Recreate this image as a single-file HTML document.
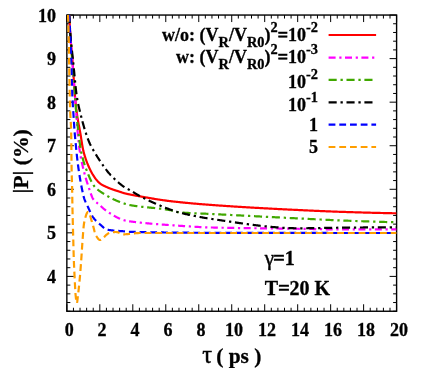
<!DOCTYPE html>
<html><head><meta charset="utf-8"><title>plot</title>
<style>
html,body{margin:0;padding:0;background:#fff;}
svg{display:block;will-change:transform;}
text{font-family:"Liberation Serif",serif;font-weight:bold;fill:#000;stroke:#000;stroke-width:0.3px;}
.sym{font-weight:normal;stroke-width:0.45px;}
</style></head><body>
<svg width="431" height="368" viewBox="0 0 431 368">
<rect x="0" y="0" width="431" height="368" fill="#fff"/>
<defs><clipPath id="c"><rect x="66.85" y="15.05" width="329.75" height="296.20"/></clipPath></defs>
<path d="M66.85 311.25V304.25M66.85 15.05V22.05M73.44 311.25V307.75M73.44 15.05V18.55M80.04 311.25V307.75M80.04 15.05V18.55M86.63 311.25V307.75M86.63 15.05V18.55M93.23 311.25V307.75M93.23 15.05V18.55M99.82 311.25V304.25M99.82 15.05V22.05M106.42 311.25V307.75M106.42 15.05V18.55M113.02 311.25V307.75M113.02 15.05V18.55M119.61 311.25V307.75M119.61 15.05V18.55M126.20 311.25V307.75M126.20 15.05V18.55M132.80 311.25V304.25M132.80 15.05V22.05M139.40 311.25V307.75M139.40 15.05V18.55M145.99 311.25V307.75M145.99 15.05V18.55M152.59 311.25V307.75M152.59 15.05V18.55M159.18 311.25V307.75M159.18 15.05V18.55M165.78 311.25V304.25M165.78 15.05V22.05M172.37 311.25V307.75M172.37 15.05V18.55M178.97 311.25V307.75M178.97 15.05V18.55M185.56 311.25V307.75M185.56 15.05V18.55M192.16 311.25V307.75M192.16 15.05V18.55M198.75 311.25V304.25M198.75 15.05V22.05M205.34 311.25V307.75M205.34 15.05V18.55M211.94 311.25V307.75M211.94 15.05V18.55M218.54 311.25V307.75M218.54 15.05V18.55M225.13 311.25V307.75M225.13 15.05V18.55M231.72 311.25V304.25M231.72 15.05V22.05M238.32 311.25V307.75M238.32 15.05V18.55M244.92 311.25V307.75M244.92 15.05V18.55M251.51 311.25V307.75M251.51 15.05V18.55M258.11 311.25V307.75M258.11 15.05V18.55M264.70 311.25V304.25M264.70 15.05V22.05M271.30 311.25V307.75M271.30 15.05V18.55M277.89 311.25V307.75M277.89 15.05V18.55M284.49 311.25V307.75M284.49 15.05V18.55M291.08 311.25V307.75M291.08 15.05V18.55M297.68 311.25V304.25M297.68 15.05V22.05M304.27 311.25V307.75M304.27 15.05V18.55M310.87 311.25V307.75M310.87 15.05V18.55M317.46 311.25V307.75M317.46 15.05V18.55M324.06 311.25V307.75M324.06 15.05V18.55M330.65 311.25V304.25M330.65 15.05V22.05M337.25 311.25V307.75M337.25 15.05V18.55M343.84 311.25V307.75M343.84 15.05V18.55M350.43 311.25V307.75M350.43 15.05V18.55M357.03 311.25V307.75M357.03 15.05V18.55M363.62 311.25V304.25M363.62 15.05V22.05M370.22 311.25V307.75M370.22 15.05V18.55M376.82 311.25V307.75M376.82 15.05V18.55M383.41 311.25V307.75M383.41 15.05V18.55M390.00 311.25V307.75M390.00 15.05V18.55M396.60 311.25V304.25M396.60 15.05V22.05M66.85 311.25H70.35M396.60 311.25H393.10M66.85 302.54H70.35M396.60 302.54H393.10M66.85 293.83H70.35M396.60 293.83H393.10M66.85 285.11H70.35M396.60 285.11H393.10M66.85 276.40H73.85M396.60 276.40H389.60M66.85 267.69H70.35M396.60 267.69H393.10M66.85 258.98H70.35M396.60 258.98H393.10M66.85 250.27H70.35M396.60 250.27H393.10M66.85 241.56H70.35M396.60 241.56H393.10M66.85 232.84H73.85M396.60 232.84H389.60M66.85 224.13H70.35M396.60 224.13H393.10M66.85 215.42H70.35M396.60 215.42H393.10M66.85 206.71H70.35M396.60 206.71H393.10M66.85 198.00H70.35M396.60 198.00H393.10M66.85 189.29H73.85M396.60 189.29H389.60M66.85 180.57H70.35M396.60 180.57H393.10M66.85 171.86H70.35M396.60 171.86H393.10M66.85 163.15H70.35M396.60 163.15H393.10M66.85 154.44H70.35M396.60 154.44H393.10M66.85 145.73H73.85M396.60 145.73H389.60M66.85 137.01H70.35M396.60 137.01H393.10M66.85 128.30H70.35M396.60 128.30H393.10M66.85 119.59H70.35M396.60 119.59H393.10M66.85 110.88H70.35M396.60 110.88H393.10M66.85 102.17H73.85M396.60 102.17H389.60M66.85 93.46H70.35M396.60 93.46H393.10M66.85 84.74H70.35M396.60 84.74H393.10M66.85 76.03H70.35M396.60 76.03H393.10M66.85 67.32H70.35M396.60 67.32H393.10M66.85 58.61H73.85M396.60 58.61H389.60M66.85 49.90H70.35M396.60 49.90H393.10M66.85 41.19H70.35M396.60 41.19H393.10M66.85 32.47H70.35M396.60 32.47H393.10M66.85 23.76H70.35M396.60 23.76H393.10M66.85 15.05H73.85M396.60 15.05H389.60" stroke="#000" stroke-width="1" fill="none"/>
<rect x="66.85" y="15.05" width="329.75" height="296.20" fill="none" stroke="#000" stroke-width="1.4"/>
<g clip-path="url(#c)" fill="none" stroke-width="2.2">
<path d="M69.20 14.90L69.40 18.80L69.60 22.60L69.80 26.27L70.00 29.76L70.20 33.04L70.40 36.06L70.61 38.84L70.81 41.43L71.01 43.86L71.21 46.17L71.41 48.41L71.61 50.59L71.81 52.77L72.01 54.98L72.21 57.26L72.41 59.64L72.61 62.16L72.81 64.86L73.01 67.72L73.21 70.71L73.42 73.78L73.62 76.89L73.82 80.02L74.02 83.11L74.22 86.12L74.42 89.03L74.62 91.78L74.82 94.35L75.02 96.68L75.22 98.82L75.42 100.87L75.62 102.84L75.82 104.73L76.02 106.54L76.23 108.27L76.43 109.93L76.63 111.52L76.83 113.04L77.03 114.49L77.23 115.88L77.43 117.21L77.63 118.47L77.83 119.68L78.03 120.85L78.23 121.98L78.43 123.08L78.63 124.15L78.83 125.21L79.04 126.25L79.24 127.29L79.44 128.33L79.64 129.38L79.84 130.45L80.04 131.54L80.24 132.66L80.44 133.81L80.64 135.02L80.84 136.26L81.04 137.52L81.24 138.81L81.44 140.10L81.64 141.38L81.85 142.66L82.05 143.91L82.25 145.12L82.45 146.30L82.65 147.42L82.85 148.49L83.05 149.47L83.25 150.38L83.45 151.20L83.65 151.98L83.85 152.74L84.05 153.48L84.25 154.20L84.45 154.90L84.66 155.58L84.86 156.25L85.06 156.90L85.26 157.54L85.46 158.16L85.66 158.77L85.86 159.36L86.06 159.94L86.26 160.51L86.46 161.06L86.66 161.60L86.86 162.13L87.06 162.66L87.26 163.17L87.47 163.67L87.67 164.16L87.87 164.65L88.07 165.12L88.27 165.59L88.47 166.05L88.67 166.51L88.87 166.96L89.07 167.41L89.27 167.85L89.47 168.29L89.67 168.73L89.87 169.16L90.07 169.58L90.28 170.00L90.48 170.40L90.68 170.80L90.88 171.18L91.08 171.56L91.28 171.93L91.48 172.30L91.68 172.66L91.88 173.01L92.08 173.35L92.28 173.69L92.48 174.03L92.68 174.36L92.89 174.68L93.09 175.00L93.29 175.32L93.49 175.64L93.69 175.95L93.89 176.26L94.09 176.57L94.29 176.87L94.49 177.18L94.69 177.47L94.89 177.77L95.09 178.06L95.29 178.34L95.49 178.62L95.70 178.89L95.90 179.16L96.10 179.42L96.30 179.67L96.50 179.92L96.70 180.16L96.90 180.39L97.10 180.61L97.30 180.83L97.50 181.05L97.70 181.26L97.90 181.47L98.10 181.68L98.30 181.88L98.51 182.08L98.71 182.27L98.91 182.46L99.11 182.64L99.31 182.82L99.51 183.00L99.71 183.17L99.91 183.34L100.11 183.50L100.31 183.65L100.51 183.80L100.71 183.94L100.91 184.08L101.11 184.21L101.32 184.34L101.52 184.47L101.72 184.59L101.92 184.71L102.12 184.83L102.32 184.95L102.52 185.06L102.72 185.17L102.92 185.28L103.12 185.38L103.32 185.49L103.52 185.59L103.72 185.69L103.92 185.79L104.13 185.89L104.33 185.99L104.53 186.08L104.73 186.18L104.93 186.27L105.13 186.36L105.33 186.46L105.53 186.55L105.73 186.64L105.93 186.73L106.13 186.82L106.33 186.92L106.53 187.01L106.73 187.10L106.94 187.19L107.14 187.27L107.34 187.36L107.54 187.45L107.74 187.53L107.94 187.62L108.14 187.70L108.34 187.79L108.54 187.87L108.74 187.95L108.94 188.03L109.14 188.11L109.34 188.19L109.54 188.27L109.75 188.35L109.95 188.43L110.15 188.51L110.35 188.59L110.55 188.66L110.75 188.74L110.95 188.81L111.15 188.89L111.35 188.96L111.55 189.04L111.75 189.11L111.95 189.18L112.15 189.26L112.35 189.33L112.56 189.40L112.76 189.47L112.96 189.54L113.16 189.61L113.36 189.68L113.56 189.75L113.76 189.81L113.96 189.88L114.16 189.95L114.36 190.01L114.56 190.08L114.76 190.14L114.96 190.21L115.17 190.27L115.37 190.34L115.57 190.40L115.77 190.47L115.97 190.53L116.17 190.59L116.37 190.66L116.57 190.72L116.77 190.79L116.97 190.85L117.17 190.91L117.37 190.98L117.57 191.04L117.77 191.10L117.98 191.17L118.18 191.23L118.38 191.30L118.58 191.36L118.78 191.43L118.98 191.49L119.18 191.56L119.38 191.62L119.58 191.69L119.78 191.76L119.98 191.82L120.18 191.89L120.38 191.96L120.58 192.03L120.79 192.09L120.99 192.16L121.19 192.23L121.39 192.30L121.59 192.36L121.79 192.43L121.99 192.50L122.19 192.56L122.39 192.63L122.59 192.69L122.79 192.76L122.99 192.82L123.19 192.88L123.39 192.94L123.60 193.01L123.80 193.07L124.00 193.12L124.20 193.18L124.40 193.24L124.60 193.29L124.80 193.35L125.00 193.40L125.20 193.45L125.40 193.50L125.60 193.55L125.80 193.60L126.00 193.65L126.20 193.69L126.41 193.74L126.61 193.79L126.81 193.83L127.01 193.88L127.21 193.92L127.41 193.96L127.61 194.01L127.81 194.05L128.01 194.09L128.21 194.13L128.41 194.18L128.61 194.22L128.81 194.26L129.01 194.30L129.22 194.34L129.42 194.38L129.62 194.42L129.82 194.46L130.02 194.50L130.22 194.54L130.42 194.59L130.62 194.63L130.82 194.67L131.02 194.71L131.22 194.75L131.42 194.79L131.62 194.83L131.82 194.87L132.03 194.91L132.23 194.95L132.43 194.98L132.63 195.02L132.83 195.06L133.03 195.10L133.23 195.14L133.43 195.18L133.63 195.22L133.83 195.26L134.03 195.29L134.23 195.33L134.43 195.37L134.63 195.41L134.84 195.45L135.04 195.48L135.24 195.52L135.44 195.56L135.64 195.60L135.84 195.63L136.04 195.67L136.24 195.71L136.44 195.74L136.64 195.78L136.84 195.82L137.04 195.85L137.24 195.89L137.44 195.93L137.65 195.96L137.85 196.00L138.05 196.03L138.25 196.07L138.45 196.11L138.65 196.14L138.85 196.18L139.05 196.21L139.25 196.25L139.45 196.28L139.65 196.32L139.85 196.35L140.05 196.39L140.26 196.42L140.46 196.46L140.66 196.49L140.86 196.53L141.06 196.56L141.26 196.60L141.46 196.63L141.66 196.67L141.86 196.70L142.06 196.74L142.26 196.77L142.46 196.81L142.66 196.84L142.86 196.88L143.07 196.91L143.27 196.94L143.47 196.98L143.67 197.01L143.87 197.05L144.07 197.08L144.27 197.12L144.47 197.15L144.67 197.19L144.87 197.22L145.07 197.26L145.27 197.29L145.47 197.33L145.67 197.36L145.88 197.40L146.08 197.43L146.28 197.47L146.48 197.50L146.68 197.54L146.88 197.57L147.08 197.61L147.28 197.64L147.48 197.68L147.68 197.71L147.88 197.74L148.08 197.78L148.28 197.81L148.48 197.85L148.69 197.88L148.89 197.92L149.09 197.95L149.29 197.99L150.11 198.13L150.94 198.27L151.77 198.41L152.60 198.55L153.42 198.68L154.25 198.82L155.08 198.96L155.90 199.09L156.73 199.22L157.56 199.35L158.39 199.48L159.21 199.61L160.04 199.74L160.87 199.86L161.69 199.99L162.52 200.11L163.35 200.23L164.18 200.34L165.00 200.46L165.83 200.57L166.66 200.68L167.48 200.79L168.31 200.89L169.14 201.00L169.97 201.10L170.79 201.19L171.62 201.29L172.45 201.39L173.27 201.48L174.10 201.57L174.93 201.67L175.76 201.76L176.58 201.85L177.41 201.94L178.24 202.03L179.06 202.11L179.89 202.20L180.72 202.29L181.55 202.37L182.37 202.46L183.20 202.54L184.03 202.62L184.85 202.70L185.68 202.79L186.51 202.87L187.34 202.94L188.16 203.02L188.99 203.10L189.82 203.18L190.64 203.25L191.47 203.33L192.30 203.40L193.13 203.48L193.95 203.55L194.78 203.62L195.61 203.70L196.43 203.77L197.26 203.84L198.09 203.91L198.92 203.98L199.74 204.05L200.57 204.11L201.40 204.18L202.22 204.25L203.05 204.32L203.88 204.38L204.71 204.45L205.53 204.51L206.36 204.58L207.19 204.64L208.01 204.70L208.84 204.76L209.67 204.83L210.50 204.89L211.32 204.95L212.15 205.01L212.98 205.07L213.80 205.13L214.63 205.19L215.46 205.25L216.29 205.31L217.11 205.37L217.94 205.43L218.77 205.49L219.59 205.54L220.42 205.60L221.25 205.66L222.08 205.72L222.90 205.77L223.73 205.83L224.56 205.89L225.38 205.94L226.21 206.00L227.04 206.05L227.87 206.11L228.69 206.16L229.52 206.22L230.35 206.27L231.17 206.32L232.00 206.38L232.83 206.43L233.65 206.48L234.48 206.54L235.31 206.59L236.14 206.64L236.96 206.69L237.79 206.75L238.62 206.80L239.44 206.85L240.27 206.90L241.10 206.95L241.93 207.00L242.75 207.05L243.58 207.10L244.41 207.15L245.23 207.20L246.06 207.25L246.89 207.30L247.72 207.35L248.54 207.40L249.37 207.45L250.20 207.49L251.02 207.54L251.85 207.59L252.68 207.64L253.51 207.69L254.33 207.73L255.16 207.78L255.99 207.83L256.81 207.87L257.64 207.92L258.47 207.97L259.30 208.01L260.12 208.06L260.95 208.10L261.78 208.15L262.60 208.20L263.43 208.24L264.26 208.29L265.09 208.33L265.91 208.38L266.74 208.42L267.57 208.46L268.39 208.51L269.22 208.55L270.05 208.60L270.88 208.64L271.70 208.68L272.53 208.73L273.36 208.77L274.18 208.81L275.01 208.86L275.84 208.90L276.67 208.94L277.49 208.98L278.32 209.03L279.15 209.07L279.97 209.11L280.80 209.15L281.63 209.20L282.46 209.24L283.28 209.28L284.11 209.32L284.94 209.36L285.76 209.40L286.59 209.44L287.42 209.49L288.25 209.53L289.07 209.57L289.90 209.61L290.73 209.65L291.55 209.69L292.38 209.73L293.21 209.77L294.04 209.81L294.86 209.85L295.69 209.89L296.52 209.93L297.34 209.97L298.17 210.01L299.00 210.05L299.83 210.09L300.65 210.13L301.48 210.17L302.31 210.21L303.13 210.25L303.96 210.29L304.79 210.33L305.62 210.37L306.44 210.41L307.27 210.45L308.10 210.49L308.92 210.52L309.75 210.56L310.58 210.60L311.41 210.64L312.23 210.68L313.06 210.72L313.89 210.75L314.71 210.79L315.54 210.83L316.37 210.86L317.20 210.90L318.02 210.94L318.85 210.97L319.68 211.01L320.50 211.05L321.33 211.08L322.16 211.12L322.99 211.15L323.81 211.19L324.64 211.22L325.47 211.26L326.29 211.29L327.12 211.32L327.95 211.36L328.78 211.39L329.60 211.42L330.43 211.46L331.26 211.49L332.08 211.52L332.91 211.55L333.74 211.58L334.57 211.61L335.39 211.64L336.22 211.67L337.05 211.70L337.87 211.73L338.70 211.76L339.53 211.78L340.36 211.81L341.18 211.84L342.01 211.87L342.84 211.89L343.66 211.92L344.49 211.95L345.32 211.97L346.14 212.00L346.97 212.03L347.80 212.05L348.63 212.08L349.45 212.11L350.28 212.13L351.11 212.16L351.93 212.18L352.76 212.21L353.59 212.24L354.42 212.26L355.24 212.29L356.07 212.31L356.90 212.34L357.72 212.36L358.55 212.39L359.38 212.41L360.21 212.43L361.03 212.46L361.86 212.48L362.69 212.51L363.51 212.53L364.34 212.55L365.17 212.58L366.00 212.60L366.82 212.62L367.65 212.65L368.48 212.67L369.30 212.69L370.13 212.71L370.96 212.73L371.79 212.76L372.61 212.78L373.44 212.80L374.27 212.82L375.09 212.84L375.92 212.86L376.75 212.88L377.58 212.90L378.40 212.92L379.23 212.94L380.06 212.96L380.88 212.98L381.71 213.00L382.54 213.02L383.37 213.04L384.19 213.06L385.02 213.07L385.85 213.09L386.67 213.11L387.50 213.13L388.33 213.14L389.16 213.16L389.98 213.18L390.81 213.19L391.64 213.21L392.46 213.23L393.29 213.24L394.12 213.26L394.95 213.27L395.77 213.29L396.60 213.30" stroke="#ff0000"/>
<path d="M69.20 14.90L69.40 18.74L69.60 22.48L69.80 26.11L70.00 29.60L70.20 32.93L70.40 36.07L70.61 39.01L70.81 41.81L71.01 44.49L71.21 47.07L71.41 49.58L71.61 52.05L71.81 54.52L72.01 57.01L72.21 59.54L72.41 62.15L72.61 64.82L72.81 67.51L73.01 70.21L73.21 72.93L73.42 75.65L73.62 78.39L73.82 81.12L74.02 83.84L74.22 86.56L74.42 89.27L74.62 91.96L74.82 94.63L75.02 97.27L75.22 99.88L75.42 102.44L75.62 104.99L75.82 107.53L76.02 110.09L76.23 112.69L76.43 115.35L76.63 118.16L76.83 121.10L77.03 124.07L77.23 126.98L77.43 129.73L77.63 132.21L77.83 134.41L78.03 136.52L78.23 138.53L78.43 140.47L78.63 142.32L78.83 144.09L79.04 145.76L79.24 147.35L79.44 148.85L79.64 150.25L79.84 151.57L80.04 152.83L80.24 154.05L80.44 155.23L80.64 156.36L80.84 157.46L81.04 158.53L81.24 159.56L81.44 160.56L81.64 161.53L81.85 162.48L82.05 163.40L82.25 164.30L82.45 165.19L82.65 166.05L82.85 166.91L83.05 167.74L83.25 168.57L83.45 169.39L83.65 170.21L83.85 171.01L84.05 171.81L84.25 172.58L84.45 173.35L84.66 174.10L84.86 174.85L85.06 175.58L85.26 176.30L85.46 177.00L85.66 177.70L85.86 178.39L86.06 179.07L86.26 179.74L86.46 180.40L86.66 181.06L86.86 181.70L87.06 182.34L87.26 182.97L87.47 183.59L87.67 184.21L87.87 184.82L88.07 185.42L88.27 186.02L88.47 186.62L88.67 187.21L88.87 187.80L89.07 188.40L89.27 189.01L89.47 189.62L89.67 190.23L89.87 190.84L90.07 191.44L90.28 192.05L90.48 192.64L90.68 193.23L90.88 193.80L91.08 194.37L91.28 194.92L91.48 195.45L91.68 195.97L91.88 196.46L92.08 196.94L92.28 197.39L92.48 197.82L92.68 198.22L92.89 198.59L93.09 198.93L93.29 199.24L93.49 199.52L93.69 199.78L93.89 200.03L94.09 200.26L94.29 200.49L94.49 200.71L94.69 200.92L94.89 201.12L95.09 201.31L95.29 201.50L95.49 201.67L95.70 201.85L95.90 202.02L96.10 202.18L96.30 202.34L96.50 202.50L96.70 202.65L96.90 202.80L97.10 202.95L97.30 203.10L97.50 203.25L97.70 203.41L97.90 203.56L98.10 203.71L98.30 203.87L98.51 204.03L98.71 204.20L98.91 204.37L99.11 204.54L99.31 204.72L99.51 204.90L99.71 205.08L99.91 205.26L100.11 205.44L100.31 205.62L100.51 205.81L100.71 205.99L100.91 206.18L101.11 206.36L101.32 206.55L101.52 206.73L101.72 206.92L101.92 207.10L102.12 207.29L102.32 207.47L102.52 207.65L102.72 207.84L102.92 208.02L103.12 208.20L103.32 208.38L103.52 208.56L103.72 208.73L103.92 208.91L104.13 209.08L104.33 209.25L104.53 209.42L104.73 209.59L104.93 209.76L105.13 209.92L105.33 210.08L105.53 210.24L105.73 210.39L105.93 210.54L106.13 210.69L106.33 210.84L106.53 210.98L106.73 211.12L106.94 211.26L107.14 211.39L107.34 211.52L107.54 211.66L107.74 211.79L107.94 211.92L108.14 212.05L108.34 212.18L108.54 212.31L108.74 212.45L108.94 212.58L109.14 212.71L109.34 212.84L109.54 212.97L109.75 213.10L109.95 213.22L110.15 213.35L110.35 213.48L110.55 213.61L110.75 213.74L110.95 213.86L111.15 213.99L111.35 214.11L111.55 214.24L111.75 214.36L111.95 214.49L112.15 214.61L112.35 214.73L112.56 214.86L112.76 214.98L112.96 215.10L113.16 215.22L113.36 215.34L113.56 215.46L113.76 215.58L113.96 215.69L114.16 215.81L114.36 215.93L114.56 216.04L114.76 216.15L114.96 216.27L115.17 216.38L115.37 216.49L115.57 216.60L115.77 216.71L115.97 216.82L116.17 216.93L116.37 217.04L116.57 217.14L116.77 217.25L116.97 217.35L117.17 217.46L117.37 217.56L117.57 217.66L117.77 217.76L117.98 217.86L118.18 217.96L118.38 218.05L118.58 218.15L118.78 218.24L118.98 218.34L119.18 218.43L119.38 218.52L119.58 218.61L119.78 218.70L119.98 218.78L120.18 218.87L120.38 218.95L120.58 219.04L120.79 219.12L120.99 219.20L121.19 219.28L121.39 219.36L121.59 219.43L121.79 219.51L121.99 219.58L122.19 219.65L122.39 219.72L122.59 219.79L122.79 219.86L122.99 219.93L123.19 219.99L123.39 220.05L123.60 220.12L123.80 220.18L124.00 220.23L124.20 220.29L124.40 220.35L124.60 220.40L124.80 220.45L125.00 220.50L125.20 220.55L125.40 220.60L125.60 220.64L125.80 220.69L126.00 220.73L126.20 220.77L126.41 220.81L126.61 220.85L126.81 220.89L127.01 220.93L127.21 220.97L127.41 221.00L127.61 221.04L127.81 221.07L128.01 221.11L128.21 221.14L128.41 221.17L128.61 221.20L128.81 221.23L129.01 221.26L129.22 221.29L129.42 221.32L129.62 221.35L129.82 221.38L130.02 221.40L130.22 221.43L130.42 221.46L130.62 221.48L130.82 221.51L131.02 221.53L131.22 221.56L131.42 221.59L131.62 221.61L131.82 221.64L132.03 221.66L132.23 221.69L132.43 221.71L132.63 221.74L132.83 221.77L133.03 221.79L133.23 221.82L133.43 221.84L133.63 221.86L133.83 221.89L134.03 221.91L134.23 221.94L134.43 221.96L134.63 221.99L134.84 222.01L135.04 222.03L135.24 222.06L135.44 222.08L135.64 222.11L135.84 222.13L136.04 222.15L136.24 222.18L136.44 222.20L136.64 222.22L136.84 222.25L137.04 222.27L137.24 222.29L137.44 222.31L137.65 222.34L137.85 222.36L138.05 222.38L138.25 222.40L138.45 222.43L138.65 222.45L138.85 222.47L139.05 222.49L139.25 222.51L139.45 222.54L139.65 222.56L139.85 222.58L140.05 222.60L140.26 222.62L140.46 222.64L140.66 222.66L140.86 222.69L141.06 222.71L141.26 222.73L141.46 222.75L141.66 222.77L141.86 222.79L142.06 222.81L142.26 222.83L142.46 222.85L142.66 222.87L142.86 222.89L143.07 222.91L143.27 222.93L143.47 222.95L143.67 222.97L143.87 222.99L144.07 223.01L144.27 223.03L144.47 223.05L144.67 223.07L144.87 223.09L145.07 223.11L145.27 223.13L145.47 223.15L145.67 223.17L145.88 223.19L146.08 223.21L146.28 223.22L146.48 223.24L146.68 223.26L146.88 223.28L147.08 223.30L147.28 223.32L147.48 223.34L147.68 223.35L147.88 223.37L148.08 223.39L148.28 223.41L148.48 223.43L148.69 223.45L148.89 223.46L149.09 223.48L149.29 223.50L150.11 223.57L150.94 223.64L151.77 223.72L152.60 223.79L153.42 223.85L154.25 223.92L155.08 223.99L155.90 224.06L156.73 224.12L157.56 224.19L158.39 224.25L159.21 224.31L160.04 224.38L160.87 224.44L161.69 224.50L162.52 224.56L163.35 224.62L164.18 224.68L165.00 224.74L165.83 224.80L166.66 224.86L167.48 224.92L168.31 224.98L169.14 225.04L169.97 225.10L170.79 225.16L171.62 225.21L172.45 225.27L173.27 225.33L174.10 225.39L174.93 225.45L175.76 225.51L176.58 225.57L177.41 225.63L178.24 225.68L179.06 225.74L179.89 225.80L180.72 225.86L181.55 225.92L182.37 225.97L183.20 226.03L184.03 226.09L184.85 226.14L185.68 226.20L186.51 226.25L187.34 226.31L188.16 226.36L188.99 226.41L189.82 226.47L190.64 226.52L191.47 226.57L192.30 226.62L193.13 226.67L193.95 226.72L194.78 226.76L195.61 226.81L196.43 226.86L197.26 226.90L198.09 226.95L198.92 226.99L199.74 227.03L200.57 227.07L201.40 227.11L202.22 227.15L203.05 227.19L203.88 227.22L204.71 227.26L205.53 227.29L206.36 227.32L207.19 227.35L208.01 227.38L208.84 227.41L209.67 227.43L210.50 227.46L211.32 227.48L212.15 227.50L212.98 227.52L213.80 227.54L214.63 227.56L215.46 227.58L216.29 227.60L217.11 227.62L217.94 227.64L218.77 227.66L219.59 227.68L220.42 227.70L221.25 227.71L222.08 227.73L222.90 227.75L223.73 227.77L224.56 227.78L225.38 227.80L226.21 227.81L227.04 227.83L227.87 227.85L228.69 227.86L229.52 227.88L230.35 227.89L231.17 227.91L232.00 227.92L232.83 227.93L233.65 227.95L234.48 227.96L235.31 227.98L236.14 227.99L236.96 228.00L237.79 228.02L238.62 228.03L239.44 228.04L240.27 228.05L241.10 228.07L241.93 228.08L242.75 228.09L243.58 228.10L244.41 228.11L245.23 228.12L246.06 228.14L246.89 228.15L247.72 228.16L248.54 228.17L249.37 228.18L250.20 228.19L251.02 228.20L251.85 228.21L252.68 228.22L253.51 228.23L254.33 228.24L255.16 228.25L255.99 228.26L256.81 228.27L257.64 228.28L258.47 228.29L259.30 228.30L260.12 228.31L260.95 228.32L261.78 228.33L262.60 228.34L263.43 228.35L264.26 228.36L265.09 228.37L265.91 228.38L266.74 228.39L267.57 228.40L268.39 228.41L269.22 228.42L270.05 228.43L270.88 228.44L271.70 228.44L272.53 228.45L273.36 228.46L274.18 228.47L275.01 228.48L275.84 228.49L276.67 228.50L277.49 228.51L278.32 228.52L279.15 228.53L279.97 228.54L280.80 228.55L281.63 228.56L282.46 228.57L283.28 228.58L284.11 228.59L284.94 228.60L285.76 228.61L286.59 228.62L287.42 228.63L288.25 228.64L289.07 228.65L289.90 228.66L290.73 228.67L291.55 228.68L292.38 228.69L293.21 228.70L294.04 228.72L294.86 228.73L295.69 228.74L296.52 228.75L297.34 228.76L298.17 228.77L299.00 228.79L299.83 228.80L300.65 228.81L301.48 228.82L302.31 228.84L303.13 228.85L303.96 228.86L304.79 228.88L305.62 228.89L306.44 228.91L307.27 228.92L308.10 228.94L308.92 228.96L309.75 228.97L310.58 228.99L311.41 229.01L312.23 229.02L313.06 229.04L313.89 229.05L314.71 229.07L315.54 229.09L316.37 229.10L317.20 229.12L318.02 229.14L318.85 229.15L319.68 229.17L320.50 229.18L321.33 229.20L322.16 229.21L322.99 229.23L323.81 229.24L324.64 229.26L325.47 229.27L326.29 229.28L327.12 229.30L327.95 229.31L328.78 229.32L329.60 229.33L330.43 229.34L331.26 229.35L332.08 229.36L332.91 229.37L333.74 229.37L334.57 229.38L335.39 229.38L336.22 229.39L337.05 229.39L337.87 229.40L338.70 229.40L339.53 229.40L340.36 229.40L341.18 229.40L342.01 229.40L342.84 229.40L343.66 229.40L344.49 229.40L345.32 229.40L346.14 229.40L346.97 229.40L347.80 229.40L348.63 229.40L349.45 229.40L350.28 229.40L351.11 229.40L351.93 229.40L352.76 229.40L353.59 229.40L354.42 229.40L355.24 229.40L356.07 229.40L356.90 229.40L357.72 229.40L358.55 229.40L359.38 229.40L360.21 229.40L361.03 229.40L361.86 229.40L362.69 229.40L363.51 229.40L364.34 229.40L365.17 229.40L366.00 229.40L366.82 229.40L367.65 229.40L368.48 229.40L369.30 229.40L370.13 229.40L370.96 229.40L371.79 229.40L372.61 229.40L373.44 229.40L374.27 229.40L375.09 229.40L375.92 229.40L376.75 229.40L377.58 229.40L378.40 229.40L379.23 229.40L380.06 229.40L380.88 229.40L381.71 229.40L382.54 229.40L383.37 229.40L384.19 229.40L385.02 229.40L385.85 229.40L386.67 229.40L387.50 229.40L388.33 229.40L389.16 229.40L389.98 229.40L390.81 229.40L391.64 229.40L392.46 229.40L393.29 229.40L394.12 229.40L394.95 229.40L395.77 229.40L396.60 229.40" stroke="#ff00ff" stroke-dasharray="7 3.7 2.2 3.5"/>
<path d="M69.20 14.90L69.40 18.74L69.60 22.48L69.80 26.11L70.00 29.60L70.20 32.93L70.40 36.07L70.61 39.02L70.81 41.82L71.01 44.50L71.21 47.09L71.41 49.61L71.61 52.09L71.81 54.56L72.01 57.04L72.21 59.56L72.41 62.15L72.61 64.79L72.81 67.45L73.01 70.11L73.21 72.79L73.42 75.47L73.62 78.15L73.82 80.83L74.02 83.51L74.22 86.17L74.42 88.81L74.62 91.44L74.82 94.05L75.02 96.63L75.22 99.21L75.42 101.83L75.62 104.45L75.82 107.03L76.02 109.54L76.23 111.94L76.43 114.21L76.63 116.32L76.83 118.34L77.03 120.29L77.23 122.17L77.43 124.00L77.63 125.77L77.83 127.49L78.03 129.18L78.23 130.83L78.43 132.46L78.63 134.08L78.83 135.71L79.04 137.34L79.24 138.96L79.44 140.56L79.64 142.12L79.84 143.65L80.04 145.11L80.24 146.51L80.44 147.83L80.64 149.06L80.84 150.19L81.04 151.21L81.24 152.17L81.44 153.10L81.64 154.00L81.85 154.88L82.05 155.73L82.25 156.56L82.45 157.36L82.65 158.14L82.85 158.90L83.05 159.64L83.25 160.36L83.45 161.06L83.65 161.74L83.85 162.40L84.05 163.05L84.25 163.68L84.45 164.30L84.66 164.91L84.86 165.50L85.06 166.08L85.26 166.65L85.46 167.21L85.66 167.76L85.86 168.31L86.06 168.84L86.26 169.37L86.46 169.90L86.66 170.42L86.86 170.94L87.06 171.46L87.26 171.97L87.47 172.49L87.67 172.99L87.87 173.50L88.07 174.00L88.27 174.49L88.47 174.98L88.67 175.47L88.87 175.95L89.07 176.43L89.27 176.90L89.47 177.36L89.67 177.82L89.87 178.28L90.07 178.72L90.28 179.16L90.48 179.60L90.68 180.02L90.88 180.44L91.08 180.86L91.28 181.26L91.48 181.65L91.68 182.04L91.88 182.42L92.08 182.79L92.28 183.15L92.48 183.50L92.68 183.85L92.89 184.18L93.09 184.50L93.29 184.81L93.49 185.11L93.69 185.40L93.89 185.68L94.09 185.95L94.29 186.21L94.49 186.46L94.69 186.69L94.89 186.92L95.09 187.14L95.29 187.35L95.49 187.56L95.70 187.77L95.90 187.97L96.10 188.17L96.30 188.36L96.50 188.55L96.70 188.73L96.90 188.92L97.10 189.09L97.30 189.27L97.50 189.44L97.70 189.61L97.90 189.77L98.10 189.93L98.30 190.09L98.51 190.25L98.71 190.40L98.91 190.55L99.11 190.70L99.31 190.84L99.51 190.99L99.71 191.13L99.91 191.27L100.11 191.41L100.31 191.54L100.51 191.68L100.71 191.81L100.91 191.94L101.11 192.08L101.32 192.21L101.52 192.33L101.72 192.46L101.92 192.59L102.12 192.72L102.32 192.84L102.52 192.97L102.72 193.10L102.92 193.22L103.12 193.35L103.32 193.48L103.52 193.60L103.72 193.73L103.92 193.86L104.13 193.99L104.33 194.12L104.53 194.25L104.73 194.38L104.93 194.50L105.13 194.63L105.33 194.76L105.53 194.88L105.73 195.01L105.93 195.13L106.13 195.26L106.33 195.38L106.53 195.50L106.73 195.62L106.94 195.74L107.14 195.86L107.34 195.98L107.54 196.10L107.74 196.22L107.94 196.34L108.14 196.45L108.34 196.57L108.54 196.68L108.74 196.80L108.94 196.91L109.14 197.02L109.34 197.13L109.54 197.24L109.75 197.35L109.95 197.46L110.15 197.57L110.35 197.68L110.55 197.78L110.75 197.89L110.95 198.00L111.15 198.10L111.35 198.20L111.55 198.31L111.75 198.41L111.95 198.51L112.15 198.61L112.35 198.71L112.56 198.81L112.76 198.91L112.96 199.00L113.16 199.10L113.36 199.19L113.56 199.29L113.76 199.38L113.96 199.47L114.16 199.57L114.36 199.66L114.56 199.75L114.76 199.84L114.96 199.93L115.17 200.02L115.37 200.11L115.57 200.20L115.77 200.29L115.97 200.38L116.17 200.47L116.37 200.56L116.57 200.64L116.77 200.73L116.97 200.82L117.17 200.90L117.37 200.99L117.57 201.07L117.77 201.16L117.98 201.24L118.18 201.32L118.38 201.41L118.58 201.49L118.78 201.57L118.98 201.65L119.18 201.73L119.38 201.81L119.58 201.89L119.78 201.97L119.98 202.05L120.18 202.13L120.38 202.21L120.58 202.28L120.79 202.36L120.99 202.43L121.19 202.51L121.39 202.58L121.59 202.66L121.79 202.73L121.99 202.80L122.19 202.87L122.39 202.94L122.59 203.01L122.79 203.08L122.99 203.15L123.19 203.22L123.39 203.29L123.60 203.35L123.80 203.42L124.00 203.48L124.20 203.55L124.40 203.61L124.60 203.68L124.80 203.74L125.00 203.80L125.20 203.86L125.40 203.92L125.60 203.98L125.80 204.04L126.00 204.10L126.20 204.16L126.41 204.22L126.61 204.28L126.81 204.33L127.01 204.39L127.21 204.45L127.41 204.50L127.61 204.55L127.81 204.61L128.01 204.66L128.21 204.71L128.41 204.76L128.61 204.81L128.81 204.85L129.01 204.90L129.22 204.94L129.42 204.98L129.62 205.03L129.82 205.07L130.02 205.10L130.22 205.14L130.42 205.18L130.62 205.21L130.82 205.25L131.02 205.29L131.22 205.32L131.42 205.36L131.62 205.39L131.82 205.42L132.03 205.46L132.23 205.49L132.43 205.53L132.63 205.56L132.83 205.59L133.03 205.62L133.23 205.66L133.43 205.69L133.63 205.72L133.83 205.75L134.03 205.78L134.23 205.81L134.43 205.84L134.63 205.87L134.84 205.90L135.04 205.93L135.24 205.96L135.44 205.99L135.64 206.02L135.84 206.05L136.04 206.08L136.24 206.10L136.44 206.13L136.64 206.16L136.84 206.19L137.04 206.21L137.24 206.24L137.44 206.27L137.65 206.29L137.85 206.32L138.05 206.34L138.25 206.37L138.45 206.40L138.65 206.42L138.85 206.45L139.05 206.47L139.25 206.50L139.45 206.52L139.65 206.54L139.85 206.57L140.05 206.59L140.26 206.62L140.46 206.64L140.66 206.66L140.86 206.69L141.06 206.71L141.26 206.73L141.46 206.75L141.66 206.78L141.86 206.80L142.06 206.82L142.26 206.84L142.46 206.86L142.66 206.89L142.86 206.91L143.07 206.93L143.27 206.95L143.47 206.97L143.67 206.99L143.87 207.01L144.07 207.04L144.27 207.06L144.47 207.08L144.67 207.10L144.87 207.12L145.07 207.14L145.27 207.16L145.47 207.18L145.67 207.20L145.88 207.22L146.08 207.24L146.28 207.26L146.48 207.28L146.68 207.30L146.88 207.32L147.08 207.34L147.28 207.36L147.48 207.38L147.68 207.40L147.88 207.42L148.08 207.44L148.28 207.46L148.48 207.47L148.69 207.49L148.89 207.51L149.09 207.53L149.29 207.55L150.11 207.63L150.94 207.71L151.77 207.79L152.60 207.87L153.42 207.95L154.25 208.03L155.08 208.11L155.90 208.20L156.73 208.28L157.56 208.37L158.39 208.46L159.21 208.55L160.04 208.65L160.87 208.75L161.69 208.85L162.52 208.95L163.35 209.06L164.18 209.17L165.00 209.29L165.83 209.41L166.66 209.54L167.48 209.67L168.31 209.81L169.14 209.95L169.97 210.09L170.79 210.27L171.62 210.48L172.45 210.72L173.27 210.97L174.10 211.23L174.93 211.49L175.76 211.72L176.58 211.93L177.41 212.09L178.24 212.20L179.06 212.29L179.89 212.36L180.72 212.44L181.55 212.51L182.37 212.58L183.20 212.64L184.03 212.70L184.85 212.76L185.68 212.82L186.51 212.87L187.34 212.92L188.16 212.97L188.99 213.02L189.82 213.06L190.64 213.11L191.47 213.15L192.30 213.19L193.13 213.22L193.95 213.26L194.78 213.30L195.61 213.33L196.43 213.36L197.26 213.40L198.09 213.43L198.92 213.46L199.74 213.49L200.57 213.52L201.40 213.55L202.22 213.58L203.05 213.61L203.88 213.64L204.71 213.68L205.53 213.71L206.36 213.74L207.19 213.78L208.01 213.81L208.84 213.85L209.67 213.88L210.50 213.92L211.32 213.97L212.15 214.01L212.98 214.05L213.80 214.09L214.63 214.14L215.46 214.18L216.29 214.22L217.11 214.27L217.94 214.31L218.77 214.35L219.59 214.40L220.42 214.44L221.25 214.48L222.08 214.53L222.90 214.57L223.73 214.61L224.56 214.66L225.38 214.70L226.21 214.74L227.04 214.79L227.87 214.83L228.69 214.87L229.52 214.92L230.35 214.96L231.17 215.00L232.00 215.04L232.83 215.09L233.65 215.13L234.48 215.17L235.31 215.22L236.14 215.26L236.96 215.30L237.79 215.35L238.62 215.39L239.44 215.43L240.27 215.47L241.10 215.52L241.93 215.56L242.75 215.60L243.58 215.65L244.41 215.69L245.23 215.73L246.06 215.77L246.89 215.82L247.72 215.86L248.54 215.90L249.37 215.95L250.20 215.99L251.02 216.03L251.85 216.07L252.68 216.12L253.51 216.16L254.33 216.20L255.16 216.24L255.99 216.29L256.81 216.33L257.64 216.37L258.47 216.41L259.30 216.46L260.12 216.50L260.95 216.54L261.78 216.58L262.60 216.62L263.43 216.67L264.26 216.71L265.09 216.75L265.91 216.79L266.74 216.84L267.57 216.88L268.39 216.92L269.22 216.96L270.05 217.00L270.88 217.05L271.70 217.09L272.53 217.13L273.36 217.17L274.18 217.21L275.01 217.26L275.84 217.30L276.67 217.34L277.49 217.38L278.32 217.42L279.15 217.46L279.97 217.51L280.80 217.55L281.63 217.59L282.46 217.63L283.28 217.67L284.11 217.71L284.94 217.75L285.76 217.80L286.59 217.84L287.42 217.88L288.25 217.92L289.07 217.96L289.90 218.00L290.73 218.04L291.55 218.08L292.38 218.12L293.21 218.17L294.04 218.21L294.86 218.25L295.69 218.29L296.52 218.33L297.34 218.37L298.17 218.41L299.00 218.45L299.83 218.49L300.65 218.53L301.48 218.57L302.31 218.61L303.13 218.65L303.96 218.70L304.79 218.74L305.62 218.78L306.44 218.82L307.27 218.86L308.10 218.90L308.92 218.94L309.75 218.99L310.58 219.03L311.41 219.07L312.23 219.11L313.06 219.15L313.89 219.19L314.71 219.23L315.54 219.28L316.37 219.32L317.20 219.36L318.02 219.40L318.85 219.44L319.68 219.48L320.50 219.52L321.33 219.56L322.16 219.60L322.99 219.64L323.81 219.68L324.64 219.72L325.47 219.76L326.29 219.80L327.12 219.84L327.95 219.88L328.78 219.92L329.60 219.95L330.43 219.99L331.26 220.03L332.08 220.07L332.91 220.10L333.74 220.14L334.57 220.17L335.39 220.21L336.22 220.25L337.05 220.28L337.87 220.31L338.70 220.35L339.53 220.38L340.36 220.41L341.18 220.45L342.01 220.48L342.84 220.51L343.66 220.54L344.49 220.58L345.32 220.61L346.14 220.64L346.97 220.67L347.80 220.71L348.63 220.74L349.45 220.77L350.28 220.80L351.11 220.83L351.93 220.86L352.76 220.89L353.59 220.92L354.42 220.96L355.24 220.99L356.07 221.02L356.90 221.05L357.72 221.08L358.55 221.11L359.38 221.14L360.21 221.17L361.03 221.20L361.86 221.23L362.69 221.26L363.51 221.29L364.34 221.31L365.17 221.34L366.00 221.37L366.82 221.40L367.65 221.43L368.48 221.46L369.30 221.49L370.13 221.51L370.96 221.54L371.79 221.57L372.61 221.60L373.44 221.62L374.27 221.65L375.09 221.68L375.92 221.70L376.75 221.73L377.58 221.76L378.40 221.78L379.23 221.81L380.06 221.83L380.88 221.86L381.71 221.88L382.54 221.91L383.37 221.93L384.19 221.96L385.02 221.98L385.85 222.01L386.67 222.03L387.50 222.05L388.33 222.08L389.16 222.10L389.98 222.12L390.81 222.15L391.64 222.17L392.46 222.19L393.29 222.21L394.12 222.24L394.95 222.26L395.77 222.28L396.60 222.30" stroke="#40a800" stroke-dasharray="8.1 3.8 2.3 3.7"/>
<path d="M69.20 14.90L69.40 18.58L69.60 22.18L69.80 25.64L70.00 28.92L70.20 31.98L70.40 34.78L70.61 37.28L70.81 39.60L71.01 41.77L71.21 43.81L71.41 45.76L71.61 47.62L71.81 49.42L72.01 51.18L72.21 52.92L72.41 54.67L72.61 56.43L72.81 58.25L73.01 60.13L73.21 62.08L73.42 64.09L73.62 66.14L73.82 68.22L74.02 70.33L74.22 72.45L74.42 74.57L74.62 76.69L74.82 78.78L75.02 80.85L75.22 82.89L75.42 84.87L75.62 86.80L75.82 88.65L76.02 90.43L76.23 92.12L76.43 93.70L76.63 95.18L76.83 96.54L77.03 97.78L77.23 98.97L77.43 100.11L77.63 101.20L77.83 102.25L78.03 103.27L78.23 104.24L78.43 105.19L78.63 106.10L78.83 106.99L79.04 107.85L79.24 108.70L79.44 109.53L79.64 110.35L79.84 111.16L80.04 111.96L80.24 112.76L80.44 113.56L80.64 114.36L80.84 115.17L81.04 115.98L81.24 116.78L81.44 117.57L81.64 118.36L81.85 119.14L82.05 119.91L82.25 120.67L82.45 121.43L82.65 122.18L82.85 122.93L83.05 123.66L83.25 124.39L83.45 125.10L83.65 125.81L83.85 126.52L84.05 127.21L84.25 127.89L84.45 128.57L84.66 129.23L84.86 129.89L85.06 130.54L85.26 131.17L85.46 131.80L85.66 132.42L85.86 133.03L86.06 133.63L86.26 134.23L86.46 134.81L86.66 135.40L86.86 135.97L87.06 136.54L87.26 137.11L87.47 137.66L87.67 138.21L87.87 138.75L88.07 139.28L88.27 139.81L88.47 140.32L88.67 140.83L88.87 141.33L89.07 141.82L89.27 142.30L89.47 142.77L89.67 143.24L89.87 143.69L90.07 144.13L90.28 144.56L90.48 144.98L90.68 145.39L90.88 145.80L91.08 146.19L91.28 146.58L91.48 146.96L91.68 147.33L91.88 147.69L92.08 148.05L92.28 148.41L92.48 148.76L92.68 149.11L92.89 149.45L93.09 149.79L93.29 150.13L93.49 150.47L93.69 150.81L93.89 151.15L94.09 151.49L94.29 151.82L94.49 152.16L94.69 152.49L94.89 152.83L95.09 153.16L95.29 153.49L95.49 153.82L95.70 154.15L95.90 154.48L96.10 154.80L96.30 155.13L96.50 155.46L96.70 155.78L96.90 156.10L97.10 156.42L97.30 156.75L97.50 157.06L97.70 157.38L97.90 157.70L98.10 158.02L98.30 158.33L98.51 158.65L98.71 158.96L98.91 159.27L99.11 159.58L99.31 159.89L99.51 160.20L99.71 160.51L99.91 160.81L100.11 161.12L100.31 161.42L100.51 161.72L100.71 162.02L100.91 162.32L101.11 162.62L101.32 162.92L101.52 163.21L101.72 163.51L101.92 163.80L102.12 164.09L102.32 164.38L102.52 164.67L102.72 164.96L102.92 165.25L103.12 165.53L103.32 165.82L103.52 166.10L103.72 166.38L103.92 166.66L104.13 166.94L104.33 167.22L104.53 167.49L104.73 167.77L104.93 168.04L105.13 168.31L105.33 168.58L105.53 168.85L105.73 169.12L105.93 169.39L106.13 169.65L106.33 169.91L106.53 170.17L106.73 170.43L106.94 170.69L107.14 170.95L107.34 171.21L107.54 171.46L107.74 171.71L107.94 171.96L108.14 172.21L108.34 172.45L108.54 172.69L108.74 172.93L108.94 173.17L109.14 173.40L109.34 173.63L109.54 173.86L109.75 174.08L109.95 174.30L110.15 174.52L110.35 174.74L110.55 174.95L110.75 175.15L110.95 175.36L111.15 175.57L111.35 175.77L111.55 175.98L111.75 176.18L111.95 176.38L112.15 176.59L112.35 176.79L112.56 176.99L112.76 177.19L112.96 177.39L113.16 177.59L113.36 177.79L113.56 177.99L113.76 178.18L113.96 178.38L114.16 178.58L114.36 178.77L114.56 178.96L114.76 179.16L114.96 179.35L115.17 179.54L115.37 179.73L115.57 179.92L115.77 180.11L115.97 180.29L116.17 180.48L116.37 180.66L116.57 180.85L116.77 181.03L116.97 181.21L117.17 181.40L117.37 181.58L117.57 181.75L117.77 181.93L117.98 182.11L118.18 182.29L118.38 182.46L118.58 182.63L118.78 182.81L118.98 182.98L119.18 183.15L119.38 183.32L119.58 183.48L119.78 183.65L119.98 183.82L120.18 183.98L120.38 184.14L120.58 184.30L120.79 184.46L120.99 184.62L121.19 184.78L121.39 184.94L121.59 185.09L121.79 185.24L121.99 185.40L122.19 185.55L122.39 185.70L122.59 185.84L122.79 185.99L122.99 186.13L123.19 186.28L123.39 186.42L123.60 186.56L123.80 186.70L124.00 186.84L124.20 186.97L124.40 187.11L124.60 187.24L124.80 187.37L125.00 187.50L125.20 187.63L125.40 187.75L125.60 187.87L125.80 187.99L126.00 188.10L126.20 188.22L126.41 188.33L126.61 188.44L126.81 188.54L127.01 188.65L127.21 188.75L127.41 188.85L127.61 188.96L127.81 189.06L128.01 189.16L128.21 189.26L128.41 189.36L128.61 189.46L128.81 189.57L129.01 189.67L129.22 189.78L129.42 189.88L129.62 189.99L129.82 190.10L130.02 190.21L130.22 190.32L130.42 190.44L130.62 190.55L130.82 190.67L131.02 190.78L131.22 190.90L131.42 191.02L131.62 191.14L131.82 191.26L132.03 191.38L132.23 191.50L132.43 191.62L132.63 191.74L132.83 191.86L133.03 191.98L133.23 192.11L133.43 192.23L133.63 192.35L133.83 192.47L134.03 192.60L134.23 192.72L134.43 192.84L134.63 192.97L134.84 193.09L135.04 193.21L135.24 193.34L135.44 193.46L135.64 193.58L135.84 193.71L136.04 193.83L136.24 193.95L136.44 194.07L136.64 194.20L136.84 194.32L137.04 194.44L137.24 194.56L137.44 194.68L137.65 194.80L137.85 194.91L138.05 195.03L138.25 195.15L138.45 195.26L138.65 195.38L138.85 195.49L139.05 195.61L139.25 195.72L139.45 195.83L139.65 195.94L139.85 196.05L140.05 196.16L140.26 196.27L140.46 196.37L140.66 196.48L140.86 196.58L141.06 196.68L141.26 196.79L141.46 196.89L141.66 196.99L141.86 197.10L142.06 197.20L142.26 197.30L142.46 197.40L142.66 197.51L142.86 197.61L143.07 197.71L143.27 197.81L143.47 197.91L143.67 198.01L143.87 198.11L144.07 198.21L144.27 198.32L144.47 198.42L144.67 198.52L144.87 198.62L145.07 198.72L145.27 198.81L145.47 198.91L145.67 199.01L145.88 199.11L146.08 199.21L146.28 199.31L146.48 199.41L146.68 199.50L146.88 199.60L147.08 199.70L147.28 199.80L147.48 199.90L147.68 199.99L147.88 200.09L148.08 200.19L148.28 200.28L148.48 200.38L148.69 200.47L148.89 200.57L149.09 200.67L149.29 200.76L150.11 201.15L150.94 201.54L151.77 201.92L152.60 202.30L153.42 202.68L154.25 203.06L155.08 203.43L155.90 203.79L156.73 204.16L157.56 204.52L158.39 204.87L159.21 205.23L160.04 205.57L160.87 205.92L161.69 206.26L162.52 206.60L163.35 206.94L164.18 207.27L165.00 207.60L165.83 207.92L166.66 208.24L167.48 208.56L168.31 208.87L169.14 209.18L169.97 209.49L170.79 209.79L171.62 210.09L172.45 210.39L173.27 210.68L174.10 210.96L174.93 211.23L175.76 211.50L176.58 211.75L177.41 211.99L178.24 212.21L179.06 212.43L179.89 212.64L180.72 212.85L181.55 213.06L182.37 213.26L183.20 213.46L184.03 213.66L184.85 213.86L185.68 214.06L186.51 214.25L187.34 214.44L188.16 214.62L188.99 214.81L189.82 214.99L190.64 215.17L191.47 215.35L192.30 215.52L193.13 215.69L193.95 215.86L194.78 216.03L195.61 216.20L196.43 216.36L197.26 216.52L198.09 216.68L198.92 216.83L199.74 216.99L200.57 217.14L201.40 217.29L202.22 217.43L203.05 217.58L203.88 217.72L204.71 217.86L205.53 218.00L206.36 218.13L207.19 218.27L208.01 218.40L208.84 218.53L209.67 218.65L210.50 218.78L211.32 218.90L212.15 219.02L212.98 219.14L213.80 219.26L214.63 219.38L215.46 219.51L216.29 219.63L217.11 219.75L217.94 219.87L218.77 219.99L219.59 220.12L220.42 220.24L221.25 220.36L222.08 220.49L222.90 220.61L223.73 220.73L224.56 220.85L225.38 220.98L226.21 221.10L227.04 221.22L227.87 221.35L228.69 221.47L229.52 221.59L230.35 221.71L231.17 221.84L232.00 221.96L232.83 222.08L233.65 222.20L234.48 222.32L235.31 222.44L236.14 222.56L236.96 222.68L237.79 222.80L238.62 222.92L239.44 223.04L240.27 223.16L241.10 223.27L241.93 223.39L242.75 223.50L243.58 223.62L244.41 223.73L245.23 223.85L246.06 223.96L246.89 224.07L247.72 224.18L248.54 224.29L249.37 224.40L250.20 224.51L251.02 224.62L251.85 224.73L252.68 224.83L253.51 224.94L254.33 225.04L255.16 225.14L255.99 225.25L256.81 225.35L257.64 225.45L258.47 225.54L259.30 225.64L260.12 225.74L260.95 225.83L261.78 225.92L262.60 226.02L263.43 226.11L264.26 226.20L265.09 226.28L265.91 226.37L266.74 226.45L267.57 226.54L268.39 226.62L269.22 226.70L270.05 226.78L270.88 226.86L271.70 226.93L272.53 227.00L273.36 227.08L274.18 227.15L275.01 227.21L275.84 227.28L276.67 227.35L277.49 227.41L278.32 227.47L279.15 227.53L279.97 227.59L280.80 227.64L281.63 227.69L282.46 227.75L283.28 227.79L284.11 227.84L284.94 227.89L285.76 227.93L286.59 227.97L287.42 228.01L288.25 228.04L289.07 228.08L289.90 228.11L290.73 228.14L291.55 228.17L292.38 228.19L293.21 228.21L294.04 228.23L294.86 228.25L295.69 228.26L296.52 228.28L297.34 228.29L298.17 228.29L299.00 228.30L299.83 228.30L300.65 228.30L301.48 228.30L302.31 228.29L303.13 228.28L303.96 228.28L304.79 228.27L305.62 228.26L306.44 228.25L307.27 228.24L308.10 228.22L308.92 228.21L309.75 228.20L310.58 228.19L311.41 228.18L312.23 228.17L313.06 228.16L313.89 228.15L314.71 228.13L315.54 228.12L316.37 228.11L317.20 228.09L318.02 228.08L318.85 228.06L319.68 228.05L320.50 228.03L321.33 228.01L322.16 228.00L322.99 227.98L323.81 227.97L324.64 227.95L325.47 227.93L326.29 227.92L327.12 227.90L327.95 227.89L328.78 227.87L329.60 227.86L330.43 227.84L331.26 227.83L332.08 227.81L332.91 227.80L333.74 227.78L334.57 227.77L335.39 227.76L336.22 227.75L337.05 227.74L337.87 227.72L338.70 227.71L339.53 227.71L340.36 227.70L341.18 227.69L342.01 227.68L342.84 227.67L343.66 227.66L344.49 227.65L345.32 227.65L346.14 227.64L346.97 227.63L347.80 227.62L348.63 227.61L349.45 227.60L350.28 227.60L351.11 227.59L351.93 227.58L352.76 227.57L353.59 227.56L354.42 227.55L355.24 227.55L356.07 227.54L356.90 227.53L357.72 227.52L358.55 227.52L359.38 227.51L360.21 227.50L361.03 227.49L361.86 227.49L362.69 227.48L363.51 227.47L364.34 227.46L365.17 227.46L366.00 227.45L366.82 227.44L367.65 227.44L368.48 227.43L369.30 227.42L370.13 227.42L370.96 227.41L371.79 227.41L372.61 227.40L373.44 227.39L374.27 227.39L375.09 227.38L375.92 227.38L376.75 227.37L377.58 227.37L378.40 227.36L379.23 227.36L380.06 227.35L380.88 227.35L381.71 227.34L382.54 227.34L383.37 227.34L384.19 227.33L385.02 227.33L385.85 227.33L386.67 227.32L387.50 227.32L388.33 227.32L389.16 227.31L389.98 227.31L390.81 227.31L391.64 227.31L392.46 227.31L393.29 227.30L394.12 227.30L394.95 227.30L395.77 227.30L396.60 227.30" stroke="#000000" stroke-dasharray="8.1 3.8 2.3 3.7"/>
<path d="M69.00 14.90L69.20 17.36L69.40 20.17L69.60 23.29L69.80 26.70L70.01 30.34L70.21 34.17L70.41 38.24L70.61 42.77L70.81 47.73L71.01 53.02L71.21 58.56L71.41 64.46L71.62 71.33L71.82 78.68L72.02 85.90L72.22 92.36L72.42 97.45L72.62 101.43L72.82 104.87L73.02 107.96L73.23 110.90L73.43 113.87L73.63 117.02L73.83 120.24L74.03 123.43L74.23 126.53L74.43 129.47L74.63 132.18L74.84 134.59L75.04 136.77L75.24 138.79L75.44 140.75L75.64 142.74L75.84 144.85L76.04 147.12L76.24 149.39L76.45 151.44L76.65 153.35L76.85 155.21L77.05 157.02L77.25 158.77L77.45 160.48L77.65 162.13L77.85 163.74L78.05 165.30L78.26 166.82L78.46 168.29L78.66 169.71L78.86 171.10L79.06 172.46L79.26 173.78L79.46 175.08L79.66 176.35L79.87 177.59L80.07 178.79L80.27 179.98L80.47 181.13L80.67 182.25L80.87 183.35L81.07 184.42L81.27 185.46L81.48 186.48L81.68 187.48L81.88 188.48L82.08 189.46L82.28 190.44L82.48 191.40L82.68 192.35L82.88 193.27L83.09 194.17L83.29 195.03L83.49 195.86L83.69 196.66L83.89 197.41L84.09 198.12L84.29 198.78L84.49 199.38L84.70 199.94L84.90 200.46L85.10 200.95L85.30 201.42L85.50 201.86L85.70 202.28L85.90 202.69L86.10 203.09L86.31 203.48L86.51 203.88L86.71 204.28L86.91 204.68L87.11 205.11L87.31 205.54L87.51 205.97L87.71 206.41L87.91 206.85L88.12 207.30L88.32 207.75L88.52 208.20L88.72 208.65L88.92 209.10L89.12 209.56L89.32 210.01L89.52 210.45L89.73 210.90L89.93 211.34L90.13 211.78L90.33 212.22L90.53 212.65L90.73 213.07L90.93 213.48L91.13 213.89L91.34 214.29L91.54 214.68L91.74 215.06L91.94 215.43L92.14 215.79L92.34 216.14L92.54 216.47L92.74 216.79L92.95 217.10L93.15 217.39L93.35 217.66L93.55 217.93L93.75 218.19L93.95 218.45L94.15 218.70L94.35 218.94L94.56 219.18L94.76 219.42L94.96 219.65L95.16 219.87L95.36 220.10L95.56 220.31L95.76 220.53L95.96 220.74L96.16 220.94L96.37 221.14L96.57 221.34L96.77 221.54L96.97 221.73L97.17 221.92L97.37 222.11L97.57 222.29L97.77 222.47L97.98 222.66L98.18 222.83L98.38 223.01L98.58 223.19L98.78 223.36L98.98 223.53L99.18 223.70L99.38 223.88L99.59 224.05L99.79 224.22L99.99 224.38L100.19 224.55L100.39 224.72L100.59 224.89L100.79 225.06L100.99 225.24L101.20 225.42L101.40 225.60L101.60 225.78L101.80 225.96L102.00 226.15L102.20 226.34L102.40 226.52L102.60 226.71L102.81 226.89L103.01 227.07L103.21 227.25L103.41 227.43L103.61 227.60L103.81 227.77L104.01 227.94L104.21 228.10L104.42 228.26L104.62 228.41L104.82 228.56L105.02 228.70L105.22 228.83L105.42 228.95L105.62 229.07L105.82 229.17L106.02 229.27L106.23 229.36L106.43 229.44L106.63 229.51L106.83 229.56L107.03 229.61L107.23 229.65L107.43 229.68L107.63 229.72L107.84 229.76L108.04 229.80L108.24 229.83L108.44 229.87L108.64 229.90L108.84 229.94L109.04 229.97L109.24 230.00L109.45 230.03L109.65 230.06L109.85 230.09L110.05 230.12L110.25 230.15L110.45 230.18L110.65 230.21L110.85 230.23L111.06 230.26L111.26 230.28L111.46 230.31L111.66 230.33L111.86 230.36L112.06 230.38L112.26 230.40L112.46 230.43L112.67 230.45L112.87 230.47L113.07 230.49L113.27 230.51L113.47 230.53L113.67 230.55L113.87 230.57L114.07 230.59L114.27 230.61L114.48 230.63L114.68 230.64L114.88 230.66L115.08 230.68L115.28 230.70L115.48 230.71L115.68 230.73L115.88 230.75L116.09 230.76L116.29 230.78L116.49 230.79L116.69 230.81L116.89 230.82L117.09 230.84L117.29 230.85L117.49 230.87L117.70 230.88L117.90 230.89L118.10 230.91L118.30 230.92L118.50 230.93L118.70 230.95L118.90 230.96L119.10 230.97L119.31 230.99L119.51 231.00L119.71 231.01L119.91 231.03L120.11 231.04L120.31 231.05L120.51 231.07L120.71 231.08L120.92 231.09L121.12 231.11L121.32 231.12L121.52 231.14L121.72 231.15L121.92 231.16L122.12 231.18L122.32 231.19L122.53 231.21L122.73 231.22L122.93 231.23L123.13 231.25L123.33 231.26L123.53 231.28L123.73 231.30L123.93 231.31L124.13 231.33L124.34 231.34L124.54 231.36L124.74 231.38L124.94 231.39L125.14 231.41L125.34 231.43L125.54 231.45L125.74 231.47L125.95 231.49L126.15 231.51L126.35 231.53L126.55 231.55L126.75 231.57L126.95 231.59L127.15 231.60L127.35 231.62L127.56 231.64L127.76 231.66L127.96 231.68L128.16 231.69L128.36 231.71L128.56 231.73L128.76 231.74L128.96 231.75L129.17 231.76L129.37 231.78L129.57 231.78L129.77 231.79L129.97 231.80L130.17 231.80L130.37 231.81L130.57 231.82L130.78 231.82L130.98 231.83L131.18 231.83L131.38 231.84L131.58 231.84L131.78 231.85L131.98 231.85L132.18 231.86L132.38 231.86L132.59 231.87L132.79 231.87L132.99 231.88L133.19 231.89L133.39 231.89L133.59 231.90L133.79 231.90L133.99 231.91L134.20 231.91L134.40 231.92L134.60 231.92L134.80 231.93L135.00 231.93L135.20 231.94L135.40 231.94L135.60 231.95L135.81 231.95L136.01 231.96L136.21 231.96L136.41 231.97L136.61 231.97L136.81 231.98L137.01 231.98L137.21 231.99L137.42 231.99L137.62 232.00L137.82 232.00L138.02 232.01L138.22 232.01L138.42 232.01L138.62 232.02L138.82 232.02L139.03 232.03L139.23 232.03L139.43 232.04L139.63 232.04L139.83 232.05L140.03 232.05L140.23 232.06L140.43 232.06L140.63 232.07L140.84 232.07L141.04 232.07L141.24 232.08L141.44 232.08L141.64 232.09L141.84 232.09L142.04 232.10L142.24 232.10L142.45 232.11L142.65 232.11L142.85 232.11L143.05 232.12L143.25 232.12L143.45 232.13L143.65 232.13L143.85 232.14L144.06 232.14L144.26 232.14L144.46 232.15L144.66 232.15L144.86 232.16L145.06 232.16L145.26 232.17L145.46 232.17L145.67 232.17L145.87 232.18L146.07 232.18L146.27 232.19L146.47 232.19L146.67 232.19L146.87 232.20L147.07 232.20L147.28 232.21L147.48 232.21L147.68 232.21L147.88 232.22L148.08 232.22L148.28 232.23L148.48 232.23L148.68 232.23L148.89 232.24L149.09 232.24L149.29 232.24L150.11 232.26L150.94 232.27L151.77 232.29L152.60 232.30L153.42 232.32L154.25 232.33L155.08 232.35L155.90 232.36L156.73 232.37L157.56 232.39L158.39 232.40L159.21 232.41L160.04 232.42L160.87 232.44L161.69 232.45L162.52 232.46L163.35 232.47L164.18 232.48L165.00 232.49L165.83 232.50L166.66 232.51L167.48 232.52L168.31 232.53L169.14 232.54L169.97 232.55L170.79 232.56L171.62 232.57L172.45 232.58L173.27 232.59L174.10 232.60L174.93 232.61L175.76 232.61L176.58 232.62L177.41 232.63L178.24 232.64L179.06 232.64L179.89 232.65L180.72 232.66L181.55 232.66L182.37 232.67L183.20 232.68L184.03 232.68L184.85 232.69L185.68 232.69L186.51 232.70L187.34 232.71L188.16 232.71L188.99 232.72L189.82 232.72L190.64 232.73L191.47 232.73L192.30 232.73L193.13 232.74L193.95 232.74L194.78 232.75L195.61 232.75L196.43 232.76L197.26 232.76L198.09 232.76L198.92 232.77L199.74 232.77L200.57 232.77L201.40 232.78L202.22 232.78L203.05 232.78L203.88 232.78L204.71 232.79L205.53 232.79L206.36 232.79L207.19 232.79L208.01 232.80L208.84 232.80L209.67 232.80L210.50 232.80L211.32 232.80L212.15 232.80L212.98 232.81L213.80 232.81L214.63 232.81L215.46 232.81L216.29 232.81L217.11 232.82L217.94 232.82L218.77 232.82L219.59 232.82L220.42 232.82L221.25 232.82L222.08 232.83L222.90 232.83L223.73 232.83L224.56 232.83L225.38 232.83L226.21 232.83L227.04 232.84L227.87 232.84L228.69 232.84L229.52 232.84L230.35 232.84L231.17 232.84L232.00 232.85L232.83 232.85L233.65 232.85L234.48 232.85L235.31 232.85L236.14 232.85L236.96 232.86L237.79 232.86L238.62 232.86L239.44 232.86L240.27 232.86L241.10 232.86L241.93 232.86L242.75 232.87L243.58 232.87L244.41 232.87L245.23 232.87L246.06 232.87L246.89 232.87L247.72 232.87L248.54 232.88L249.37 232.88L250.20 232.88L251.02 232.88L251.85 232.88L252.68 232.88L253.51 232.88L254.33 232.89L255.16 232.89L255.99 232.89L256.81 232.89L257.64 232.89L258.47 232.89L259.30 232.89L260.12 232.90L260.95 232.90L261.78 232.90L262.60 232.90L263.43 232.90L264.26 232.90L265.09 232.90L265.91 232.90L266.74 232.91L267.57 232.91L268.39 232.91L269.22 232.91L270.05 232.91L270.88 232.91L271.70 232.91L272.53 232.91L273.36 232.91L274.18 232.92L275.01 232.92L275.84 232.92L276.67 232.92L277.49 232.92L278.32 232.92L279.15 232.92L279.97 232.92L280.80 232.93L281.63 232.93L282.46 232.93L283.28 232.93L284.11 232.93L284.94 232.93L285.76 232.93L286.59 232.93L287.42 232.93L288.25 232.93L289.07 232.94L289.90 232.94L290.73 232.94L291.55 232.94L292.38 232.94L293.21 232.94L294.04 232.94L294.86 232.94L295.69 232.94L296.52 232.94L297.34 232.95L298.17 232.95L299.00 232.95L299.83 232.95L300.65 232.95L301.48 232.95L302.31 232.95L303.13 232.95L303.96 232.95L304.79 232.95L305.62 232.95L306.44 232.96L307.27 232.96L308.10 232.96L308.92 232.96L309.75 232.96L310.58 232.96L311.41 232.96L312.23 232.96L313.06 232.96L313.89 232.96L314.71 232.96L315.54 232.96L316.37 232.96L317.20 232.97L318.02 232.97L318.85 232.97L319.68 232.97L320.50 232.97L321.33 232.97L322.16 232.97L322.99 232.97L323.81 232.97L324.64 232.97L325.47 232.97L326.29 232.97L327.12 232.97L327.95 232.97L328.78 232.97L329.60 232.98L330.43 232.98L331.26 232.98L332.08 232.98L332.91 232.98L333.74 232.98L334.57 232.98L335.39 232.98L336.22 232.98L337.05 232.98L337.87 232.98L338.70 232.98L339.53 232.98L340.36 232.98L341.18 232.98L342.01 232.98L342.84 232.98L343.66 232.98L344.49 232.99L345.32 232.99L346.14 232.99L346.97 232.99L347.80 232.99L348.63 232.99L349.45 232.99L350.28 232.99L351.11 232.99L351.93 232.99L352.76 232.99L353.59 232.99L354.42 232.99L355.24 232.99L356.07 232.99L356.90 232.99L357.72 232.99L358.55 232.99L359.38 232.99L360.21 232.99L361.03 232.99L361.86 232.99L362.69 232.99L363.51 232.99L364.34 232.99L365.17 232.99L366.00 232.99L366.82 233.00L367.65 233.00L368.48 233.00L369.30 233.00L370.13 233.00L370.96 233.00L371.79 233.00L372.61 233.00L373.44 233.00L374.27 233.00L375.09 233.00L375.92 233.00L376.75 233.00L377.58 233.00L378.40 233.00L379.23 233.00L380.06 233.00L380.88 233.00L381.71 233.00L382.54 233.00L383.37 233.00L384.19 233.00L385.02 233.00L385.85 233.00L386.67 233.00L387.50 233.00L388.33 233.00L389.16 233.00L389.98 233.00L390.81 233.00L391.64 233.00L392.46 233.00L393.29 233.00L394.12 233.00L394.95 233.00L395.77 233.00L396.60 233.00" stroke="#0000ff" stroke-dasharray="6.8 3.9"/>
<path d="M68.00 14.90L68.20 18.62L68.41 24.72L68.61 32.38L68.81 41.89L69.02 55.05L69.22 67.00L69.43 78.62L69.63 89.37L69.83 98.33L70.04 105.71L70.24 112.02L70.44 117.21L70.65 120.71L70.85 123.85L71.06 128.25L71.26 136.85L71.46 157.51L71.67 173.19L71.87 179.63L72.07 185.92L72.28 197.69L72.48 208.95L72.69 217.86L72.89 225.84L73.09 233.36L73.30 240.88L73.50 248.72L73.70 256.07L73.91 261.92L74.11 266.86L74.32 271.26L74.52 275.38L74.72 279.52L74.93 283.76L75.13 287.84L75.33 291.46L75.54 294.32L75.74 296.42L75.95 298.41L76.15 300.20L76.35 301.68L76.56 302.72L76.76 303.19L76.96 302.93L77.17 301.97L77.37 300.51L77.58 298.75L77.78 296.89L77.98 295.14L78.19 293.51L78.39 291.80L78.59 290.03L78.80 288.18L79.00 286.26L79.21 284.27L79.41 282.22L79.61 280.10L79.82 277.92L80.02 275.65L80.22 273.25L80.43 270.73L80.63 268.10L80.83 265.38L81.04 262.61L81.24 259.80L81.45 256.90L81.65 253.80L81.85 250.60L82.06 247.40L82.26 244.31L82.46 241.46L82.67 238.78L82.87 236.02L83.08 233.27L83.28 230.63L83.48 228.20L83.69 226.05L83.89 224.30L84.09 223.03L84.30 222.05L84.50 221.12L84.71 220.21L84.91 219.34L85.11 218.51L85.32 217.71L85.52 216.96L85.72 216.26L85.93 215.60L86.13 214.99L86.34 214.43L86.54 213.92L86.74 213.47L86.95 213.07L87.15 212.73L87.35 212.46L87.56 212.24L87.76 212.10L87.97 212.02L88.17 212.01L88.37 212.08L88.58 212.25L88.78 212.50L88.98 212.82L89.19 213.21L89.39 213.66L89.60 214.17L89.80 214.73L90.00 215.32L90.21 215.96L90.41 216.62L90.61 217.31L90.82 218.01L91.02 218.72L91.22 219.44L91.43 220.15L91.63 220.85L91.84 221.54L92.04 222.20L92.24 222.83L92.45 223.45L92.65 224.13L92.85 224.84L93.06 225.60L93.26 226.38L93.47 227.18L93.67 228.00L93.87 228.82L94.08 229.63L94.28 230.43L94.48 231.21L94.69 231.95L94.89 232.66L95.10 233.32L95.30 233.92L95.50 234.46L95.71 234.93L95.91 235.32L96.11 235.67L96.32 236.01L96.52 236.35L96.73 236.68L96.93 237.01L97.13 237.33L97.34 237.64L97.54 237.93L97.74 238.21L97.95 238.48L98.15 238.73L98.36 238.96L98.56 239.18L98.76 239.37L98.97 239.54L99.17 239.68L99.37 239.80L99.58 239.90L99.78 239.96L99.99 239.99L100.19 240.00L100.39 239.98L100.60 239.94L100.80 239.88L101.00 239.80L101.21 239.70L101.41 239.59L101.62 239.47L101.82 239.33L102.02 239.17L102.23 239.01L102.43 238.83L102.63 238.65L102.84 238.45L103.04 238.25L103.24 238.04L103.45 237.83L103.65 237.61L103.86 237.39L104.06 237.16L104.26 236.93L104.47 236.71L104.67 236.48L104.87 236.26L105.08 236.04L105.28 235.82L105.49 235.61L105.69 235.40L105.89 235.21L106.10 235.02L106.30 234.84L106.50 234.67L106.71 234.51L106.91 234.36L107.12 234.22L107.32 234.08L107.52 233.94L107.73 233.80L107.93 233.66L108.13 233.52L108.34 233.38L108.54 233.25L108.75 233.13L108.95 233.02L109.15 232.92L109.36 232.83L109.56 232.76L109.76 232.71L109.97 232.67L110.17 232.63L110.38 232.59L110.58 232.55L110.78 232.51L110.99 232.47L111.19 232.44L111.39 232.40L111.60 232.37L111.80 232.34L112.01 232.31L112.21 232.28L112.41 232.25L112.62 232.23L112.82 232.20L113.02 232.18L113.23 232.15L113.43 232.13L113.64 232.11L113.84 232.09L114.04 232.08L114.25 232.06L114.45 232.05L114.65 232.04L114.86 232.03L115.06 232.02L115.26 232.01L115.47 232.01L115.67 232.00L115.88 232.00L116.08 232.00L116.28 232.01L116.49 232.03L116.69 232.05L116.89 232.09L117.10 232.13L117.30 232.18L117.51 232.24L117.71 232.30L117.91 232.36L118.12 232.44L118.32 232.51L118.52 232.59L118.73 232.68L118.93 232.76L119.14 232.85L119.34 232.94L119.54 233.03L119.75 233.13L119.95 233.22L120.15 233.31L120.36 233.40L120.56 233.49L120.77 233.58L120.97 233.66L121.17 233.75L121.38 233.82L121.58 233.90L121.78 233.97L121.99 234.03L122.19 234.09L122.40 234.14L122.60 234.19L122.80 234.23L123.01 234.26L123.21 234.28L123.41 234.30L123.62 234.30L123.82 234.30L124.03 234.30L124.23 234.29L124.43 234.29L124.64 234.29L124.84 234.28L125.04 234.27L125.25 234.26L125.45 234.25L125.66 234.24L125.86 234.23L126.06 234.22L126.27 234.21L126.47 234.19L126.67 234.18L126.88 234.16L127.08 234.15L127.28 234.13L127.49 234.12L127.69 234.10L127.90 234.08L128.10 234.06L128.30 234.04L128.51 234.02L128.71 234.00L128.91 233.98L129.12 233.96L129.32 233.94L129.53 233.91L129.73 233.89L129.93 233.87L130.14 233.85L130.34 233.82L130.54 233.80L130.75 233.77L130.95 233.75L131.16 233.73L131.36 233.70L131.56 233.68L131.77 233.65L131.97 233.63L132.17 233.61L132.38 233.58L132.58 233.56L132.79 233.53L132.99 233.51L133.19 233.49L133.40 233.46L133.60 233.44L133.80 233.42L134.01 233.39L134.21 233.37L134.42 233.35L134.62 233.33L134.82 233.31L135.03 233.29L135.23 233.27L135.43 233.25L135.64 233.23L135.84 233.21L136.05 233.19L136.25 233.17L136.45 233.16L136.66 233.14L136.86 233.12L137.06 233.11L137.27 233.10L137.47 233.08L137.68 233.07L137.88 233.06L138.08 233.05L138.29 233.04L138.49 233.03L138.69 233.02L138.90 233.02L139.10 233.01L139.30 233.01L139.51 233.00L139.71 233.00L139.92 233.00L140.12 233.00L140.32 233.00L140.53 233.00L140.73 233.00L140.93 233.00L141.14 233.00L141.34 233.00L141.55 233.00L141.75 233.00L141.95 233.00L142.16 233.00L142.36 233.00L142.56 233.00L142.77 233.00L142.97 233.00L143.18 233.00L143.38 233.00L143.58 233.00L143.79 233.00L143.99 233.00L144.19 233.00L144.40 233.00L144.60 233.00L144.81 233.00L145.01 233.00L145.21 233.00L145.42 233.00L145.62 233.00L145.82 233.00L146.03 233.00L146.23 233.00L146.44 233.00L146.64 233.00L146.84 233.00L147.05 233.00L147.25 233.00L147.45 233.00L147.66 233.00L147.86 233.00L148.07 233.00L148.27 233.00L148.47 233.00L148.68 233.00L148.88 233.00L149.08 233.00L149.29 233.00L150.11 233.00L150.94 233.00L151.77 233.00L152.60 233.00L153.42 233.00L154.25 233.00L155.08 233.00L155.90 233.00L156.73 233.00L157.56 233.00L158.39 233.00L159.21 233.00L160.04 233.00L160.87 233.00L161.69 233.00L162.52 233.00L163.35 233.00L164.18 233.00L165.00 233.00L165.83 233.00L166.66 233.00L167.48 233.00L168.31 233.00L169.14 233.00L169.97 233.00L170.79 233.00L171.62 233.00L172.45 233.00L173.27 233.00L174.10 233.00L174.93 233.00L175.76 233.00L176.58 233.00L177.41 233.00L178.24 233.00L179.06 233.00L179.89 233.00L180.72 233.00L181.55 233.00L182.37 233.00L183.20 233.00L184.03 233.00L184.85 233.00L185.68 233.00L186.51 233.00L187.34 233.00L188.16 233.00L188.99 233.00L189.82 233.00L190.64 233.00L191.47 233.00L192.30 233.00L193.13 233.00L193.95 233.00L194.78 233.00L195.61 233.00L196.43 233.00L197.26 233.00L198.09 233.00L198.92 233.00L199.74 233.00L200.57 233.00L201.40 233.00L202.22 233.00L203.05 233.00L203.88 233.00L204.71 233.00L205.53 233.00L206.36 233.00L207.19 233.00L208.01 233.00L208.84 233.00L209.67 233.00L210.50 233.00L211.32 233.00L212.15 233.00L212.98 233.00L213.80 233.00L214.63 233.00L215.46 233.00L216.29 233.00L217.11 233.00L217.94 233.00L218.77 233.00L219.59 233.00L220.42 233.00L221.25 233.00L222.08 233.00L222.90 233.00L223.73 233.00L224.56 233.00L225.38 233.00L226.21 233.00L227.04 233.00L227.87 233.00L228.69 233.00L229.52 233.00L230.35 233.00L231.17 233.00L232.00 233.00L232.83 233.00L233.65 233.00L234.48 233.00L235.31 233.00L236.14 233.00L236.96 233.00L237.79 233.00L238.62 233.00L239.44 233.00L240.27 233.00L241.10 233.00L241.93 233.00L242.75 233.00L243.58 233.00L244.41 233.00L245.23 233.00L246.06 233.00L246.89 233.00L247.72 233.00L248.54 233.00L249.37 233.00L250.20 233.00L251.02 233.00L251.85 233.00L252.68 233.00L253.51 233.00L254.33 233.00L255.16 233.00L255.99 233.00L256.81 233.00L257.64 233.00L258.47 233.00L259.30 233.00L260.12 233.00L260.95 233.00L261.78 233.00L262.60 233.00L263.43 233.00L264.26 233.00L265.09 233.00L265.91 233.00L266.74 233.00L267.57 233.00L268.39 233.00L269.22 233.00L270.05 233.00L270.88 233.00L271.70 233.00L272.53 233.00L273.36 233.00L274.18 233.00L275.01 233.00L275.84 233.00L276.67 233.00L277.49 233.00L278.32 233.00L279.15 233.00L279.97 233.00L280.80 233.00L281.63 233.00L282.46 233.00L283.28 233.00L284.11 233.00L284.94 233.00L285.76 233.00L286.59 233.00L287.42 233.00L288.25 233.00L289.07 233.00L289.90 233.00L290.73 233.00L291.55 233.00L292.38 233.00L293.21 233.00L294.04 233.00L294.86 233.00L295.69 233.00L296.52 233.00L297.34 233.00L298.17 233.00L299.00 233.00L299.83 233.00L300.65 233.00L301.48 233.00L302.31 233.00L303.13 233.00L303.96 233.00L304.79 233.00L305.62 233.00L306.44 233.00L307.27 233.00L308.10 233.00L308.92 233.00L309.75 233.00L310.58 233.00L311.41 233.00L312.23 233.00L313.06 233.00L313.89 233.00L314.71 233.00L315.54 233.00L316.37 233.00L317.20 233.00L318.02 233.00L318.85 233.00L319.68 233.00L320.50 233.00L321.33 233.00L322.16 233.00L322.99 233.00L323.81 233.00L324.64 233.00L325.47 233.00L326.29 233.00L327.12 233.00L327.95 233.00L328.78 233.00L329.60 233.00L330.43 233.00L331.26 233.00L332.08 233.00L332.91 233.00L333.74 233.00L334.57 233.00L335.39 233.00L336.22 233.00L337.05 233.00L337.87 233.00L338.70 233.00L339.53 233.00L340.36 233.00L341.18 233.00L342.01 233.00L342.84 233.00L343.66 233.00L344.49 233.00L345.32 233.00L346.14 233.00L346.97 233.00L347.80 233.00L348.63 233.00L349.45 233.00L350.28 233.00L351.11 233.00L351.93 233.00L352.76 233.00L353.59 233.00L354.42 233.00L355.24 233.00L356.07 233.00L356.90 233.00L357.72 233.00L358.55 233.00L359.38 233.00L360.21 233.00L361.03 233.00L361.86 233.00L362.69 233.00L363.51 233.00L364.34 233.00L365.17 233.00L366.00 233.00L366.82 233.00L367.65 233.00L368.48 233.00L369.30 233.00L370.13 233.00L370.96 233.00L371.79 233.00L372.61 233.00L373.44 233.00L374.27 233.00L375.09 233.00L375.92 233.00L376.75 233.00L377.58 233.00L378.40 233.00L379.23 233.00L380.06 233.00L380.88 233.00L381.71 233.00L382.54 233.00L383.37 233.00L384.19 233.00L385.02 233.00L385.85 233.00L386.67 233.00L387.50 233.00L388.33 233.00L389.16 233.00L389.98 233.00L390.81 233.00L391.64 233.00L392.46 233.00L393.29 233.00L394.12 233.00L394.95 233.00L395.77 233.00L396.60 233.00" stroke="#ff9e00" stroke-dasharray="6.8 3.9"/>
</g>
<text x="56.0" y="282.90" font-size="18" text-anchor="end">4</text>
<text x="56.0" y="239.34" font-size="18" text-anchor="end">5</text>
<text x="56.0" y="195.79" font-size="18" text-anchor="end">6</text>
<text x="56.0" y="152.23" font-size="18" text-anchor="end">7</text>
<text x="56.0" y="108.67" font-size="18" text-anchor="end">8</text>
<text x="56.0" y="65.11" font-size="18" text-anchor="end">9</text>
<text x="56.0" y="21.55" font-size="18" text-anchor="end">10</text>
<text x="69.15" y="336.1" font-size="18" text-anchor="middle">0</text>
<text x="102.12" y="336.1" font-size="18" text-anchor="middle">2</text>
<text x="135.10" y="336.1" font-size="18" text-anchor="middle">4</text>
<text x="168.08" y="336.1" font-size="18" text-anchor="middle">6</text>
<text x="201.05" y="336.1" font-size="18" text-anchor="middle">8</text>
<text x="234.03" y="336.1" font-size="18" text-anchor="middle">10</text>
<text x="267.00" y="336.1" font-size="18" text-anchor="middle">12</text>
<text x="299.98" y="336.1" font-size="18" text-anchor="middle">14</text>
<text x="332.95" y="336.1" font-size="18" text-anchor="middle">16</text>
<text x="365.93" y="336.1" font-size="18" text-anchor="middle">18</text>
<text x="398.90" y="336.1" font-size="18" text-anchor="middle">20</text>
<text transform="translate(27.6 161.35) rotate(-90)" font-size="21.7" text-anchor="middle">|P| (%)</text>
<text x="202.3" y="363.3" font-size="24.5" class="sym">τ</text>
<text x="261.4" y="363.3" font-size="21.4" text-anchor="end">( ps )</text>
<text x="264.8" y="264.9" font-size="21" class="sym">γ</text>
<text x="273.3" y="264.9" font-size="20"><tspan stroke="#000" stroke-width="0.7">=</tspan>1</text>
<text x="264.8" y="294.8" font-size="20">T<tspan stroke="#000" stroke-width="0.7">=</tspan>20 K</text>
<text x="318" y="41.20" font-size="18" text-anchor="end">w/o: (V<tspan dy="5.4" font-size="14.4">R</tspan><tspan dy="-5.4">/V</tspan><tspan dy="5.4" font-size="14.4">R0</tspan><tspan dy="-5.4">)</tspan><tspan dy="-9" font-size="14.4">2</tspan><tspan dy="9" stroke="#000" stroke-width="0.7">=</tspan>10<tspan dy="-9" font-size="14.4">-2</tspan></text>
<text x="318" y="63.30" font-size="18" text-anchor="end">w: (V<tspan dy="5.4" font-size="14.4">R</tspan><tspan dy="-5.4">/V</tspan><tspan dy="5.4" font-size="14.4">R0</tspan><tspan dy="-5.4">)</tspan><tspan dy="-9" font-size="14.4">2</tspan><tspan dy="9" stroke="#000" stroke-width="0.7">=</tspan>10<tspan dy="-9" font-size="14.4">-3</tspan></text>
<text x="318" y="87.60" font-size="18" text-anchor="end">10<tspan dy="-9" font-size="14.4">-2</tspan></text>
<text x="318" y="110.60" font-size="18" text-anchor="end">10<tspan dy="-9" font-size="14.4">-1</tspan></text>
<text x="318" y="131.30" font-size="18" text-anchor="end">1</text>
<text x="318" y="153.40" font-size="18" text-anchor="end">5</text>
<path d="M328.6 35.00H376.10" stroke="#ff0000" stroke-width="2.2" fill="none"/>
<path d="M328.6 57.55H376.10" stroke="#ff00ff" stroke-width="2.2" fill="none" stroke-dasharray="7 3.7 2.2 3.5"/>
<path d="M328.6 79.90H376.10" stroke="#40a800" stroke-width="2.2" fill="none" stroke-dasharray="8.1 3.8 2.3 3.7"/>
<path d="M328.6 102.45H376.10" stroke="#000000" stroke-width="2.2" fill="none" stroke-dasharray="8.1 3.8 2.3 3.7"/>
<path d="M328.6 124.60H376.10" stroke="#0000ff" stroke-width="2.2" fill="none" stroke-dasharray="6.8 3.9"/>
<path d="M328.6 147.00H376.10" stroke="#ff9e00" stroke-width="2.2" fill="none" stroke-dasharray="6.8 3.9"/>
</svg>
</body></html>
